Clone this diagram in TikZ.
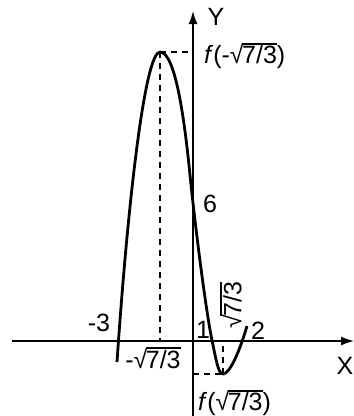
\documentclass[tikz,border=0pt]{standalone}
\usepackage{fontspec}
\setmainfont{Liberation Sans}
\usetikzlibrary{arrows.meta}
\newcommand\myroot[1]{√\kern-0.06em\vbox{\hrule height 0.07em\kern 0.05em\hbox{#1}}}
\begin{document}
\begin{tikzpicture}[x=1pt,y=-1pt,
  lab/.style={font=\fontsize{25}{29}\selectfont, inner sep=0pt},
  axisline/.style={line width=1.5pt, -{Latex[length=13pt,width=9pt]}},
  dsh/.style={line width=1.6pt, dash pattern=on 6pt off 5pt},
  curveline/.style={line width=2.8pt, line join=round}]
\useasboundingbox (0,0) rectangle (354,416);
% axes
\coordinate (xs) at (12,341);
\coordinate (xe) at (354,341);
\coordinate (ys) at (193,416);
\coordinate (ye) at (193,11);
\draw[axisline] (xs) -- (xe);
\draw[axisline] (ys) -- (ye);
% extrema
\coordinate (mx) at (160,52);
\coordinate (mxa) at (160,341);
\coordinate (mxy) at (193,52);
\coordinate (mn) at (223,374);
\coordinate (mna) at (223,341);
\coordinate (mny) at (193,374);
\draw[dsh] (mx) -- (mxa);
\draw[dsh] (mx) -- (mxy);
\draw[dsh] (mn) -- (mna);
\draw[dsh] (mny) -- (mn);
% curve
\coordinate (c0) at (117,362);
\coordinate (c1) at (190,175);
\coordinate (c2) at (213,345);
\coordinate (c3) at (247,326);
\draw[curveline] (c0) .. controls (128,200) and (145,52) .. (mx)
  .. controls (176,52) and (185,125) .. (c1)
  .. controls (195,225) and (207,320) .. (c2)
  .. controls (217,365) and (219,374) .. (mn)
  .. controls (230,374) and (240,350) .. (c3);
% labels
\node[lab] (ly) at (216,17) {Y};
\node[lab, anchor=west] (lfm) at (204,56) {\textit{f}(-\myroot{7/3})};
\node[lab] (l6) at (210,204) {6};
\node[lab, rotate=90] (lr) at (231,305) {\myroot{7/3}};
\node[lab] (l1) at (203,330) {1};
\node[lab] (l2) at (258,331) {2};
\node[lab] (lm3) at (99,323) {-3};
\node[lab] (lmr) at (153,358) {-\myroot{7/3}};
\node[lab] (lx) at (345,366) {X};
\node[lab, anchor=west] (lfp) at (198,403) {\textit{f}(\myroot{7/3})};
\end{tikzpicture}
\end{document}
